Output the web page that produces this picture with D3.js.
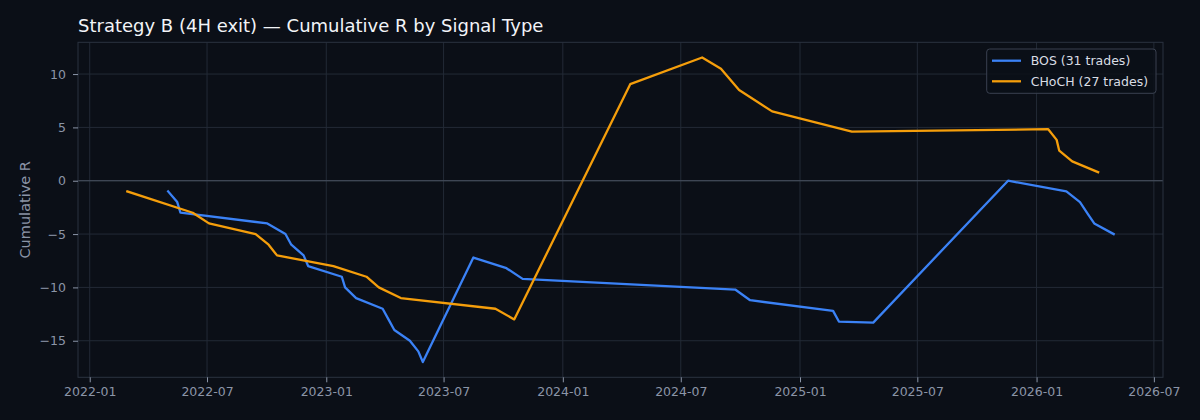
<!DOCTYPE html>
<html><head><meta charset="utf-8">
<script src="https://cdn.jsdelivr.net/npm/d3@7"></script>
<style>
html,body{margin:0;padding:0;background:#0b0f17;}
svg{display:block;font-family:"DejaVu Sans",sans-serif;}
</style></head>
<body><svg id="c" width="1200" height="420"></svg>
<script>
const titleText = "Strategy B (4H exit) — Cumulative R by Signal Type";
const yLabel = "Cumulative R";
const seriesNames = ["BOS (31 trades)", "CHoCH (27 trades)"];
const seriesColors = ["#3b82f6", "#f59e0b"];

const bosDates = ["2022-05-02","2022-05-16","2022-05-21","2022-10-02","2022-10-30","2022-11-08","2022-11-27","2022-12-04","2023-01-25","2023-01-30","2023-02-16","2023-03-29","2023-04-07","2023-04-16","2023-05-10","2023-05-23","2023-05-30","2023-08-16","2023-10-06","2023-10-31","2024-09-23","2024-10-16","2025-02-21","2025-03-02","2025-04-24","2025-11-18","2026-02-16","2026-03-09","2026-03-21","2026-03-31","2026-04-30"];
const bosValues = [-1,-2,-3,-4,-5,-6,-7,-8,-9,-10,-11,-12,-13,-14,-15,-16,-17,-7.2,-8.2,-9.2,-10.2,-11.2,-12.2,-13.2,-13.3,0,-1,-2,-3.1,-4,-5];

const chochDates = ["2022-02-28","2022-06-09","2022-07-04","2022-09-14","2022-10-04","2022-10-17","2023-01-12","2023-03-04","2023-03-23","2023-04-26","2023-09-19","2023-10-18","2024-04-14","2024-08-03","2024-09-01","2024-09-29","2024-11-19","2025-03-22","2026-01-19","2026-02-01","2026-02-05","2026-02-25","2026-04-06"];
const chochValues = [-1,-3,-4,-5,-6,-7,-8,-9,-10,-11,-12,-13,9.05,11.55,10.5,8.5,6.5,4.6,4.83,3.83,2.82,1.82,0.8];

const yTicks = [-15,-10,-5,0,5,10];

const W = 1200, H = 420;
const m = {left:78, right:1163, top:42.3, bottom:377.3};
const parse = d3.utcParse("%Y-%m-%d");
const series = [
  {name: seriesNames[0], color: seriesColors[0], pts: bosDates.map((d,i)=>({d:parse(d), v:bosValues[i]}))},
  {name: seriesNames[1], color: seriesColors[1], pts: chochDates.map((d,i)=>({d:parse(d), v:chochValues[i]}))}
];
const all = series.flatMap(s=>s.pts);
const [dmin,dmax] = d3.extent(all, p=>+p.d);
const dpad = (dmax-dmin)*0.05;
const [vmin,vmax] = d3.extent(all, p=>p.v);
const vpad = (vmax-vmin)*0.05;

const x = d3.scaleUtc().domain([new Date(dmin-dpad), new Date(dmax+dpad)]).range([m.left, m.right]);
const y = d3.scaleLinear().domain([vmin-vpad, vmax+vpad]).range([m.bottom, m.top]);

const svg = d3.select("#c");
svg.append("rect").attr("width",W).attr("height",H).attr("fill","#0b0f17");

const xTicks = x.ticks(d3.utcMonth.every(6));
const grid = svg.append("g");
grid.selectAll("line.v").data(xTicks).join("line")
  .attr("x1",d=>x(d)).attr("x2",d=>x(d)).attr("y1",m.top).attr("y2",m.bottom)
  .attr("stroke","#232a36").attr("stroke-width",1);
grid.selectAll("line.h").data(yTicks).join("line")
  .attr("x1",m.left).attr("x2",m.right).attr("y1",d=>y(d)).attr("y2",d=>y(d))
  .attr("stroke","#232a36").attr("stroke-width",1);
// zero line
svg.append("line").attr("x1",m.left).attr("x2",m.right).attr("y1",y(0)).attr("y2",y(0))
  .attr("stroke","#4a5362").attr("stroke-width",1.2);

// spines
svg.append("rect").attr("x",m.left).attr("y",m.top).attr("width",m.right-m.left).attr("height",m.bottom-m.top)
  .attr("fill","none").attr("stroke","#2b3240").attr("stroke-width",1);

// axes
const tickColor = "#8b95a7";
const xAxis = svg.append("g").attr("transform",`translate(0,${m.bottom})`)
  .call(d3.axisBottom(x).tickValues(xTicks).tickFormat(d3.utcFormat("%Y-%m")).tickSize(5).tickPadding(5));
const yAxis = svg.append("g").attr("transform",`translate(${m.left},0)`)
  .call(d3.axisLeft(y).tickValues(yTicks).tickSize(5).tickPadding(7));
[xAxis,yAxis].forEach(a=>{
  a.select(".domain").remove();
  a.selectAll(".tick line").attr("stroke",tickColor).attr("stroke-width",1);
  a.selectAll(".tick text").attr("fill",tickColor).attr("font-size","12.5px").attr("font-family","DejaVu Sans");
});

// lines
const line = d3.line().x(p=>x(p.d)).y(p=>y(p.v));
series.forEach(s=>{
  svg.append("path").datum(s.pts).attr("d",line).attr("fill","none")
    .attr("stroke",s.color).attr("stroke-width",2.3).attr("stroke-linejoin","round").attr("stroke-linecap","square");
});

// title
svg.append("text").attr("x",m.left).attr("y",32).text(titleText)
  .attr("fill","#f2f4f7").attr("font-size","18px");

// y label
svg.append("text").attr("transform",`translate(30,${(m.top+m.bottom)/2}) rotate(-90)`)
  .attr("text-anchor","middle").text(yLabel).attr("fill",tickColor).attr("font-size","14.5px");

// legend
const lg = svg.append("g");
lg.append("rect").attr("x",986.7).attr("y",49).attr("width",169.3).attr("height",44.3).attr("rx",3)
  .attr("fill","#0b0f17").attr("fill-opacity",0.85).attr("stroke","#3a4150").attr("stroke-width",1);
series.forEach((s,i)=>{
  const yy = 60.7 + i*20.6;
  lg.append("line").attr("x1",992).attr("x2",1021).attr("y1",yy).attr("y2",yy).attr("stroke",s.color).attr("stroke-width",2.3);
  lg.append("text").attr("x",1030.7).attr("y",yy).attr("dy","0.35em").text(s.name)
    .attr("fill","#d9dde4").attr("font-size","12.5px");
});
</script></body></html>
